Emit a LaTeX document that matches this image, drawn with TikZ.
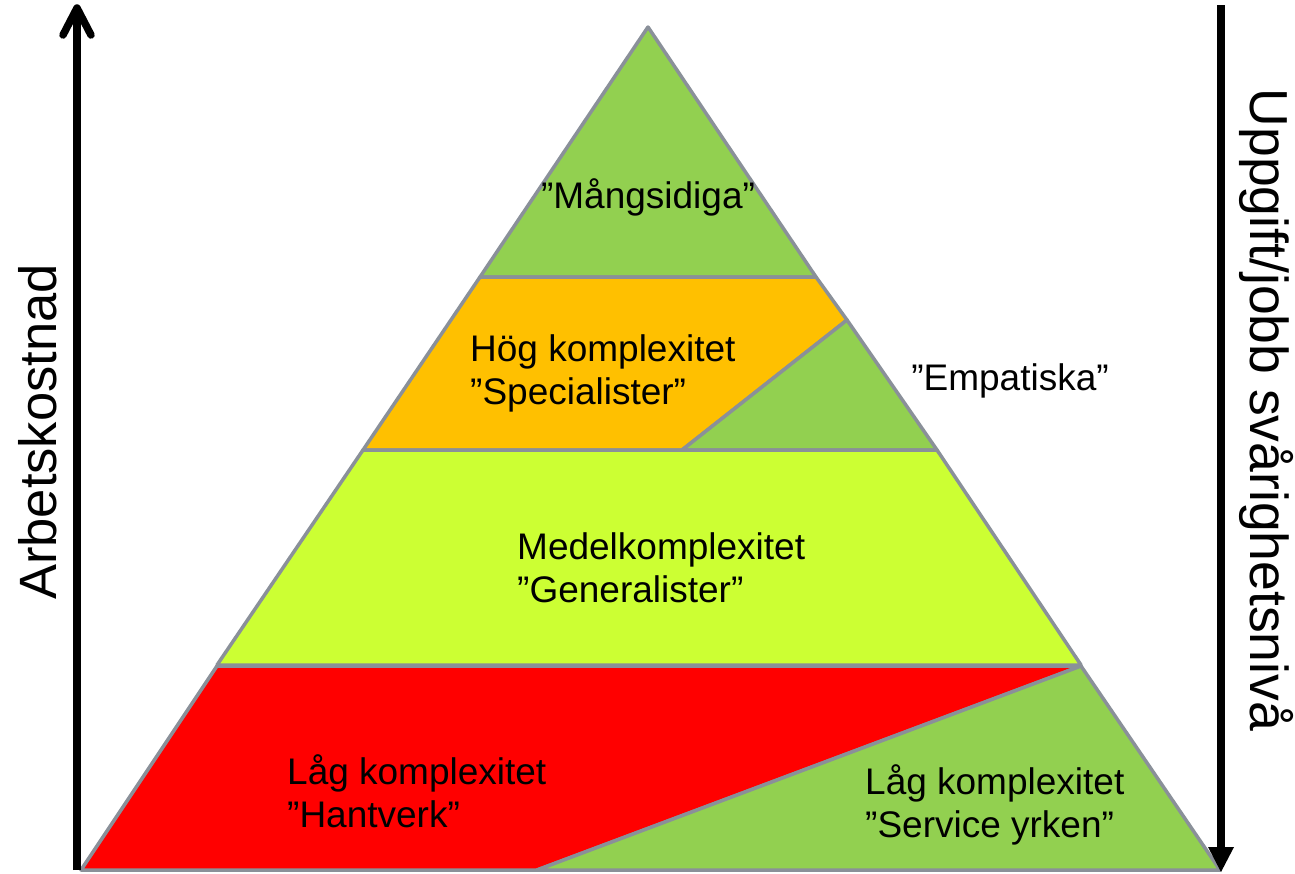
\documentclass[tikz,border=0pt]{standalone}
\usepackage{fontspec}
\setmainfont{Liberation Sans}
\definecolor{pgreen}{HTML}{92D050}
\definecolor{porange}{HTML}{FFC000}
\definecolor{pyellow}{HTML}{CCFF33}
\definecolor{pred}{HTML}{FF0000}
\definecolor{pborder}{HTML}{8A9099}
\begin{document}
\begin{tikzpicture}[x=1pt,y=-1pt,
  region/.style={draw=pborder,line width=3.5pt,line join=round},
  lbl/.style={font=\fontsize{37}{43}\selectfont,align=left,inner sep=0pt},
  axislbl/.style={font=\fontsize{52.5}{60}\selectfont,inner sep=0pt}]
\useasboundingbox (0,0) rectangle (1295,873);
% regions
\coordinate (apex) at (648,27);
\coordinate (bl) at (81,870);
\coordinate (br) at (1220,870);
\coordinate (sc) at (1081,666);
\coordinate (sb) at (537,870);
\filldraw[region,fill=pgreen] (apex) -- (816,277) -- (480,277) -- cycle;
\filldraw[region,fill=porange] (480,277) -- (816,277) -- (847,320) -- (682,450) -- (363,450) -- cycle;
\filldraw[region,fill=pgreen] (847,320) -- (937,450) -- (682,450) -- cycle;
\filldraw[region,fill=pyellow] (363,450) -- (937,450) -- (1081,665) -- (217,665) -- cycle;
\filldraw[region,fill=pred] (217,666) -- (sc) -- (sb) -- (bl) -- cycle;
\filldraw[region,fill=pgreen] (sc) -- (br) -- (sb) -- cycle;
% labels
\node[lbl] (mang) at (648,197) {”Mångsidiga”};
\node[lbl,anchor=north west] (spec) at (470,334) {Hög komplexitet\\”Specialister”};
\node[lbl] (emp) at (1010,381) {”Empatiska”};
\node[lbl,anchor=north west] (gen) at (517,532) {Medelkomplexitet\\”Generalister”};
\node[lbl,anchor=north west] (hant) at (287,754) {Låg komplexitet\\”Hantverk”};
\node[lbl,anchor=north west] (serv) at (865,764) {Låg komplexitet\\”Service yrken”};
% axes
\coordinate (la0) at (77,870);
\coordinate (la1) at (77,8);
\draw[line width=7.5pt] (la0) -- (77,14);
\draw[line width=7.5pt,line cap=round,line join=round] (63,35) -- (la1) -- (91,35);
\node[axislbl,rotate=90] (arb) at (38,432) {Arbetskostnad};
\coordinate (ra0) at (1221,5);
\coordinate (ra1) at (1221,872);
\draw[line width=7.5pt] (ra0) -- (1221,850);
\fill (1208,847) -- (1234,847) -- (ra1) -- cycle;
\node[axislbl,rotate=-90,font=\fontsize{53.5}{60}\selectfont] (upp) at (1266,410) {Uppgift/jobb svårighetsnivå};
\end{tikzpicture}
\end{document}
